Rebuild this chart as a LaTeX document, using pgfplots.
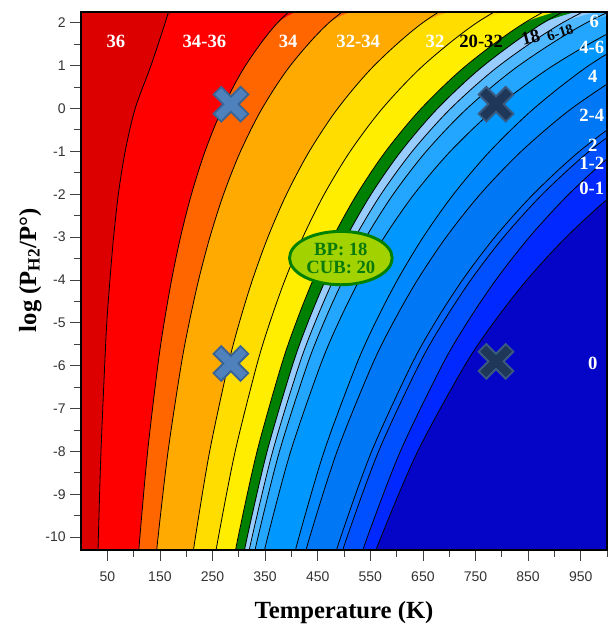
\documentclass[border=0pt]{standalone}
\usepackage{fontspec}
\setmainfont{Liberation Serif}
\setsansfont{Liberation Sans}
\usepackage{pgfplots}
\pgfplotsset{compat=1.18}
\usetikzlibrary{shapes.geometric}
\definecolor{cA}{HTML}{DD0000}
\definecolor{cB}{HTML}{FF0000}
\definecolor{cC}{HTML}{FF6600}
\definecolor{cD}{HTML}{FFAA00}
\definecolor{cE}{HTML}{FFDD00}
\definecolor{cF}{HTML}{FFEE00}
\definecolor{cG}{HTML}{008000}
\definecolor{cH}{HTML}{99CCFF}
\definecolor{cI}{HTML}{4DB8FF}
\definecolor{cJ}{HTML}{22A6FF}
\definecolor{cK}{HTML}{0097FF}
\definecolor{cL}{HTML}{0088FF}
\definecolor{cM}{HTML}{0077F5}
\definecolor{cN}{HTML}{0066FF}
\definecolor{cO}{HTML}{0050FF}
\definecolor{cP}{HTML}{0028FF}
\definecolor{cZ}{HTML}{0505C8}
\definecolor{ellfill}{HTML}{A2D200}
\definecolor{elltext}{HTML}{0A7A0A}
\definecolor{xlfill}{HTML}{4F81BD}
\definecolor{xlbord}{HTML}{3A6494}
\definecolor{xrfill}{HTML}{1F385A}
\definecolor{xrbord}{HTML}{3A5A80}
\newcommand{\lab}{\fontsize{14}{14}\selectfont\bfseries}
\begin{document}
\begin{tikzpicture}
\useasboundingbox (-60.75pt,-58.5pt) rectangle (395.25pt,412.5pt);
\begin{axis}[
  at={(0pt,0pt)}, anchor=south west,
  scale only axis, width=394.5pt, height=403.5pt,
  xmin=0, xmax=1000, ymin=-10.3, ymax=2.25,
  axis background/.style={fill=cZ},
  axis on top,
  xtick={50,150,...,950}, minor xtick={100,200,...,1000},
  ytick={-10,-9,...,2}, minor ytick={-9.5,-8.5,...,1.5},
  xtick pos=bottom, ytick pos=left,
  tick align=outside,
  major tick length=8pt, minor tick length=5pt,
  tick style={black!75, line width=0.6pt},
  axis line style={black, line width=0.9pt},
  ticklabel style={font=\sffamily\fontsize{10.5}{12}\selectfont, text=black!80},
  xticklabel style={yshift=-5pt},
  /pgf/number format/assume math mode=true,
  xlabel={\textbf{Temperature (K)}},
  ylabel={\textbf{log (P\textsubscript{H2}/P°)}},
  label style={font=\fontsize{18.5}{20}\selectfont},
  xlabel style={at={(axis description cs:0.5,-0.1165)}, anchor=center},
  ylabel style={at={(axis description cs:-0.0963,0.52)}, anchor=center},
]
% regions, from right to left
\addplot[fill=cP, draw=none, smooth] coordinates {(540.8,-11)(570.3,-10)(640.1,-8)(729.4,-6)(784.2,-5)(847.8,-4)(922.6,-3)(1011.9,-2)(1120.4,-1)(1254.9,0)(1426.1,1)(1651.3,2)(1961.2,3)(-200,3)(-200,-11)} -- cycle;
\addplot[fill=cO, draw=none, smooth] coordinates {(517.7,-11)(544.4,-10)(607.1,-8)(686.1,-6)(733.8,-5)(788.7,-4)(852.5,-3)(927.4,-2)(1016.9,-1)(1125.4,0)(1259.9,1)(1430.8,2)(1655.4,3)(-200,3)(-200,-11)} -- cycle;
\addplot[fill=cN, draw=none, smooth] coordinates {(480.3,-11)(505.8,-10)(565.7,-8)(641.6,-6)(687.8,-5)(741.2,-4)(803.5,-3)(877.3,-2)(966,-1)(1074.7,0)(1210.9,1)(1386.7,2)(1622.1,3)(-200,3)(-200,-11)} -- cycle;
\addplot[fill=cM, draw=none, smooth] coordinates {(468.8,-11)(493.7,-10)(552.5,-8)(627.3,-6)(672.7,-5)(725.3,-4)(786.9,-3)(859.8,-2)(947.6,-1)(1055.4,0)(1190.9,1)(1366.3,2)(1602.2,3)(-200,3)(-200,-11)} -- cycle;
\addplot[fill=cL, draw=none, smooth] coordinates {(412.8,-11)(434.8,-10)(486.8,-8)(552.9,-6)(593.2,-5)(639.7,-4)(694.3,-3)(759,-2)(837,-1)(932.9,0)(1053.6,1)(1210.1,2)(1421.3,3)(-200,3)(-200,-11)} -- cycle;
\addplot[fill=cK, draw=none, smooth] coordinates {(393.8,-11)(414.3,-10)(462.2,-8)(522.8,-6)(559.4,-5)(601.6,-4)(650.6,-3)(708.3,-2)(777.3,-1)(861.2,0)(965.3,1)(1098.1,2)(1273.2,3)(-200,3)(-200,-11)} -- cycle;
\addplot[fill=cJ, draw=none, smooth] coordinates {(336.3,-11)(354.8,-10)(398.6,-8)(454.8,-6)(489.2,-5)(529.4,-4)(576.7,-3)(633.3,-2)(702.2,-1)(787.9,0)(897.5,1)(1042.5,2)(1243.4,3)(-200,3)(-200,-11)} -- cycle;
\addplot[fill=cI, draw=none, smooth] coordinates {(319.1,-11)(336.4,-10)(377.3,-8)(429.5,-6)(461.4,-5)(498.4,-4)(541.9,-3)(593.7,-2)(656.4,-1)(734,0)(832.4,1)(961.3,2)(1137.4,3)(-200,3)(-200,-11)} -- cycle;
\addplot[fill=cH, draw=none, smooth] coordinates {(308.6,-11)(325.2,-10)(364.4,-8)(414.2,-6)(444.7,-5)(479.9,-4)(521.3,-3)(570.4,-2)(629.8,-1)(702.9,0)(795.3,1)(915.6,2)(1078.8,3)(-200,3)(-200,-11)} -- cycle;
\addplot[fill=cG, draw=none, smooth] coordinates {(300,-11)(316,-10)(353.8,-8)(401.8,-6)(431.1,-5)(465,-4)(504.6,-3)(551.6,-2)(608.3,-1)(678,0)(765.7,1)(879.5,2)(1033,3)(-200,3)(-200,-11)} -- cycle;
\addplot[fill=cF, draw=none, smooth] coordinates {(283.5,-11)(298.7,-10)(334.7,-8)(380.7,-6)(408.7,-5)(441.2,-4)(479.3,-3)(524.6,-2)(579.3,-1)(646.9,0)(732.2,1)(843.5,2)(994.6,3)(-200,3)(-200,-11)} -- cycle;
\addplot[fill=cE, draw=none, smooth] coordinates {(247.7,-11)(261.2,-10)(293.1,-8)(333.9,-6)(358.8,-5)(387.8,-4)(421.9,-3)(462.5,-2)(511.8,-1)(572.9,0)(650.5,1)(752.5,2)(892.4,3)(-200,3)(-200,-11)} -- cycle;
\addplot[fill=cD, draw=none, smooth] coordinates {(206.1,-11)(217.5,-10)(244.6,-8)(279.5,-6)(300.9,-5)(325.9,-4)(355.4,-3)(390.8,-2)(434.1,-1)(488.1,0)(557.4,1)(649.7,2)(778.6,3)(-200,3)(-200,-11)} -- cycle;
\addplot[fill=cC, draw=none, smooth] coordinates {(138.6,-11)(146.5,-10)(165.5,-8)(190.2,-6)(205.6,-5)(223.6,-4)(245.1,-3)(271.1,-2)(303.3,-1)(344.3,0)(398,1)(471.5,2)(578.5,3)(-200,3)(-200,-11)} -- cycle;
\addplot[fill=cB, draw=none, smooth] coordinates {(105.7,-11)(111.9,-10)(126.7,-8)(146,-6)(158,-5)(172.2,-4)(189.2,-3)(210,-2)(235.8,-1)(268.9,0)(312.7,1)(373.7,2)(464.2,3)(-200,3)(-200,-11)} -- cycle;
\addplot[fill=cA, draw=none, smooth] coordinates {(31,-11)(33,-10)(38,-8)(45,-6)(49,-5)(55,-4)(62,-3)(71,-2)(84,-1)(103,0)(133,1)(160,2)(185,3)(-200,3)(-200,-11)} -- cycle;
% boundary lines
\pgfplotsset{bline/.style={black, line width=0.6pt, smooth}}
\addplot[bline] coordinates {(540.8,-11)(570.3,-10)(640.1,-8)(729.4,-6)(784.2,-5)(847.8,-4)(922.6,-3)(1011.9,-2)(1120.4,-1)(1254.9,0)};
\addplot[bline] coordinates {(517.7,-11)(544.4,-10)(607.1,-8)(686.1,-6)(733.8,-5)(788.7,-4)(852.5,-3)(927.4,-2)(1016.9,-1)(1125.4,0)};
\addplot[bline] coordinates {(480.3,-11)(505.8,-10)(565.7,-8)(641.6,-6)(687.8,-5)(741.2,-4)(803.5,-3)(877.3,-2)(966,-1)(1074.7,0)};
\addplot[bline] coordinates {(468.8,-11)(493.7,-10)(552.5,-8)(627.3,-6)(672.7,-5)(725.3,-4)(786.9,-3)(859.8,-2)(947.6,-1)(1055.4,0)};
\addplot[bline] coordinates {(412.8,-11)(434.8,-10)(486.8,-8)(552.9,-6)(593.2,-5)(639.7,-4)(694.3,-3)(759,-2)(837,-1)(932.9,0)(1053.6,1)};
\addplot[bline] coordinates {(393.8,-11)(414.3,-10)(462.2,-8)(522.8,-6)(559.4,-5)(601.6,-4)(650.6,-3)(708.3,-2)(777.3,-1)(861.2,0)(965.3,1)(1098.1,2)};
\addplot[bline] coordinates {(336.3,-11)(354.8,-10)(398.6,-8)(454.8,-6)(489.2,-5)(529.4,-4)(576.7,-3)(633.3,-2)(702.2,-1)(787.9,0)(897.5,1)(1042.5,2)(1243.4,3)};
\addplot[bline] coordinates {(319.1,-11)(336.4,-10)(377.3,-8)(429.5,-6)(461.4,-5)(498.4,-4)(541.9,-3)(593.7,-2)(656.4,-1)(734,0)(832.4,1)(961.3,2)(1137.4,3)};
\addplot[bline] coordinates {(308.6,-11)(325.2,-10)(364.4,-8)(414.2,-6)(444.7,-5)(479.9,-4)(521.3,-3)(570.4,-2)(629.8,-1)(702.9,0)(795.3,1)(915.6,2)(1078.8,3)};
\addplot[bline] coordinates {(300,-11)(316,-10)(353.8,-8)(401.8,-6)(431.1,-5)(465,-4)(504.6,-3)(551.6,-2)(608.3,-1)(678,0)(765.7,1)(879.5,2)(1033,3)};
\addplot[bline] coordinates {(283.5,-11)(298.7,-10)(334.7,-8)(380.7,-6)(408.7,-5)(441.2,-4)(479.3,-3)(524.6,-2)(579.3,-1)(646.9,0)(732.2,1)(843.5,2)(994.6,3)};
\addplot[bline] coordinates {(247.7,-11)(261.2,-10)(293.1,-8)(333.9,-6)(358.8,-5)(387.8,-4)(421.9,-3)(462.5,-2)(511.8,-1)(572.9,0)(650.5,1)(752.5,2)(892.4,3)};
\addplot[bline] coordinates {(206.1,-11)(217.5,-10)(244.6,-8)(279.5,-6)(300.9,-5)(325.9,-4)(355.4,-3)(390.8,-2)(434.1,-1)(488.1,0)(557.4,1)(649.7,2)(778.6,3)};
\addplot[bline] coordinates {(138.6,-11)(146.5,-10)(165.5,-8)(190.2,-6)(205.6,-5)(223.6,-4)(245.1,-3)(271.1,-2)(303.3,-1)(344.3,0)(398,1)(471.5,2)(578.5,3)};
\addplot[bline] coordinates {(105.7,-11)(111.9,-10)(126.7,-8)(146,-6)(158,-5)(172.2,-4)(189.2,-3)(210,-2)(235.8,-1)(268.9,0)(312.7,1)(373.7,2)(464.2,3)};
\addplot[bline] coordinates {(31,-11)(33,-10)(38,-8)(45,-6)(49,-5)(55,-4)(62,-3)(71,-2)(84,-1)(103,0)(133,1)(160,2)(185,3)};
% crosses
\addplot[only marks, mark=x, mark size=15pt, mark options={draw=xlbord, line width=9.5pt}] coordinates {(285,0.1)(285,-5.95)};
\addplot[only marks, mark=x, mark size=13.6pt, mark options={draw=xlfill, line width=6.4pt}] coordinates {(285,0.1)(285,-5.95)};
\addplot[only marks, mark=x, mark size=15pt, mark options={draw=xrbord, line width=9.5pt}] coordinates {(789,0.1)(789,-5.9)};
\addplot[only marks, mark=x, mark size=13.6pt, mark options={draw=xrfill, line width=6.4pt}] coordinates {(789,0.1)(789,-5.9)};
% ellipse
\node[ellipse, draw=cG, line width=2.2pt, fill=ellfill, minimum width=77pt, minimum height=40pt, inner sep=0pt, align=center, text=elltext, font=\fontsize{14}{13.5}\selectfont\bfseries] at (axis cs:494,-3.49) {BP: 18\\CUB: 20};
% labels
\node[text=white, font=\lab] at (axis cs:66.5,1.57) {36};
\node[text=white, font=\lab] at (axis cs:234.6,1.57) {34-36};
\node[text=white, font=\lab] at (axis cs:393.7,1.57) {34};
\node[text=white, font=\lab] at (axis cs:527,1.57) {32-34};
\node[text=white, font=\lab] at (axis cs:673,1.57) {32};
\node[text=black, font=\lab] at (axis cs:760.7,1.57) {20-32};
\node[text=black, font=\lab, rotate=15] at (axis cs:854.8,1.66) {18};
\node[text=black, font=\fontsize{11}{11}\selectfont\bfseries, rotate=18] at (axis cs:911,1.77) {6-18};
\node[text=white, font=\lab] at (axis cs:976,2.02) {6};
\node[text=white, font=\lab] at (axis cs:971,1.43) {4-6};
\node[text=white, font=\lab] at (axis cs:973,0.74) {4};
\node[text=white, font=\lab] at (axis cs:971,-0.16) {2-4};
\node[text=white, font=\lab] at (axis cs:973,-0.85) {2};
\node[text=white, font=\lab] at (axis cs:971,-1.28) {1-2};
\node[text=white, font=\lab] at (axis cs:971,-1.86) {0-1};
\node[text=white, font=\lab] at (axis cs:973,-5.95) {0};
\end{axis}
\end{tikzpicture}
\end{document}
